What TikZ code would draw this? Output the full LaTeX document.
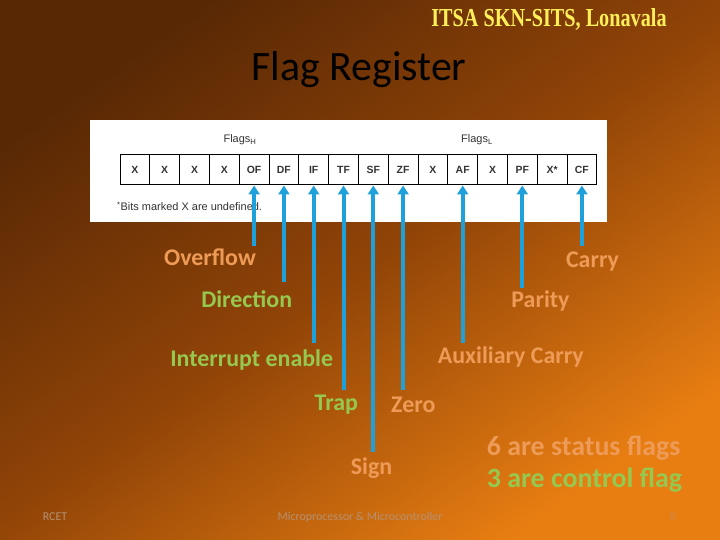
\documentclass[tikz,border=0pt]{standalone}
\usepackage{fontspec}
\usepackage{graphicx}
\setmainfont{Carlito}
\newfontfamily\timesf{Liberation Serif}
\newfontfamily\helv{Liberation Sans}
\usetikzlibrary{arrows.meta}

\definecolor{bgdark}{RGB}{88,40,5}
\definecolor{bgmid}{RGB}{145,68,7}
\definecolor{bglight}{RGB}{232,126,18}
\definecolor{arrowblue}{RGB}{30,160,218}
\definecolor{lblorange}{RGB}{238,155,88}
\definecolor{lblgreen}{RGB}{150,200,80}
\definecolor{titleyellow}{RGB}{255,240,90}
\definecolor{footgray}{RGB}{180,145,115}

\begin{document}
\begin{tikzpicture}[x=1bp,y=-1bp,
  cell/.style={draw=black, line width=1bp, minimum width=29.8bp, minimum height=30bp, inner sep=0pt,
    font=\helv\bfseries\fontsize{10.5}{12}\selectfont, text=black!80},
  flagarrow/.style={draw=arrowblue, line width=4bp, -{Triangle[width=11bp,length=9bp]}},
  lblO/.style={anchor=base, inner sep=0pt, text=lblorange, font=\bfseries\fontsize{24}{28}\selectfont},
  lblG/.style={lblO, text=lblgreen},
  bigO/.style={anchor=base west, inner sep=0pt, text=lblorange, font=\bfseries\fontsize{28}{32}\selectfont},
  bigG/.style={bigO, text=lblgreen},
  foot/.style={anchor=base, inner sep=0pt, text=footgray, font=\fontsize{12}{14}\selectfont},
  small/.style={anchor=base, inner sep=0pt, text=black!80, font=\helv\fontsize{11}{13}\selectfont}]

\useasboundingbox (0,0) rectangle (720,540);
\shade[top color=bgdark, bottom color=bglight, middle color=bgmid, shading angle=35] (0,0) rectangle (720,540);

% header
\node[anchor=base, inner sep=0pt, text=titleyellow, font=\timesf\bfseries\fontsize{26}{30}\selectfont] (itsa) at (549,27)
  {\scalebox{0.78}[1]{ITSA SKN-SITS, Lonavala}};
\node[anchor=base, inner sep=0pt, text=black, font=\fontsize{42}{50}\selectfont] (title) at (359,81) {Flag Register};

% register panel
\node[fill=white, minimum width=517bp, minimum height=102bp, anchor=north west, inner sep=0pt] (panel) at (90,120) {};
\node[small] (flagsH) at (240,143) {Flags\textsubscript{H}};
\node[small] (flagsL) at (477,143) {Flags\textsubscript{L}};
\foreach \t [count=\i from 0] in {X,X,X,X,OF,DF,IF,TF,SF,ZF,X,AF,X,PF,X*,CF}
  \node[cell] (c\i) at ({120+29.8*(\i+0.5)},170) {\t};
\node[small, anchor=base west] (note) at (117,211) {\textsuperscript{*}Bits marked X are undefined.};

% labels
\node[lblO] (overflow) at (210,266) {Overflow};
\node[lblG] (direction) at (246.7,307.7) {Direction};
\node[lblG] (interrupt) at (251.7,366.7) {Interrupt enable};
\node[lblG] (trap) at (336.3,410) {Trap};
\node[lblO] (zero) at (413.3,412.7) {Zero};
\node[lblO] (carry) at (592.5,267.7) {Carry};
\node[lblO] (parity) at (540.5,307.7) {Parity};
\node[lblO] (aux) at (510.8,363.3) {Auxiliary Carry};
\node[lblO] (sign) at (371.5,474.3) {Sign};
\node[bigO] (status) at (486.7,455) {6 are status flags};
\node[bigG] (control) at (486.7,487.7) {3 are control flag};

% arrow ends
\coordinate (eOF) at (c4.south |- 0,246);
\coordinate (eDF) at (c5.south |- 0,282);
\coordinate (eIF) at (c6.south |- 0,343);
\coordinate (eTF) at (c7.south |- 0,390);
\coordinate (eSF) at (c8.south |- 0,452);
\coordinate (eZF) at (c9.south |- 0,390);
\coordinate (eAF) at (c11.south |- 0,343);
\coordinate (ePF) at (c13.south |- 0,288);
\coordinate (eCF) at (c15.south |- 0,246);

\draw[flagarrow] (eOF) -- (c4.south);
\draw[flagarrow] (eDF) -- (c5.south);
\draw[flagarrow] (eIF) -- (c6.south);
\draw[flagarrow] (eTF) -- (c7.south);
\draw[flagarrow] (eSF) -- (c8.south);
\draw[flagarrow] (eZF) -- (c9.south);
\draw[flagarrow] (eAF) -- (c11.south);
\draw[flagarrow] (ePF) -- (c13.south);
\draw[flagarrow] (eCF) -- (c15.south);

% footer
\node[foot] (rcet) at (55,520) {RCET};
\node[foot] (course) at (360,520) {Microprocessor \& Microcontroller};
\node[foot, opacity=0.5] (page) at (673,520) {8};
\end{tikzpicture}
\end{document}
